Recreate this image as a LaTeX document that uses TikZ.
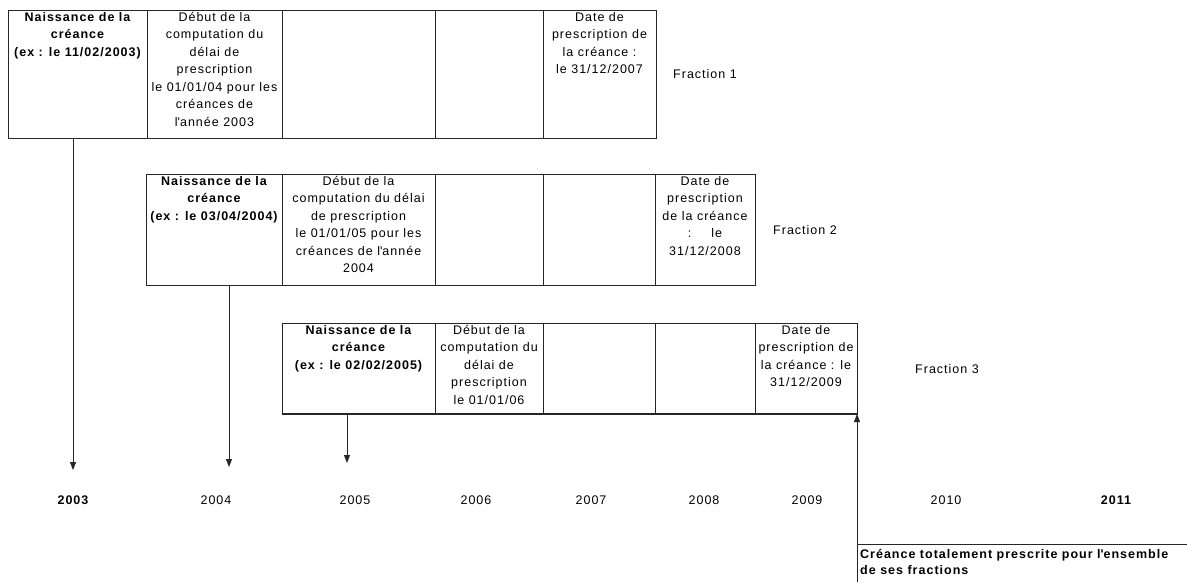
\documentclass[tikz,border=0pt]{standalone}
\usepackage{fontspec}
\setmainfont{Liberation Sans}[LetterSpace=8]
\usetikzlibrary{arrows.meta}
\begin{document}
\begin{tikzpicture}[x=1pt,y=-1pt,
  base/.style={font=\fontsize{12.5}{17.5}\selectfont},
  boldtxt/.style={font=\fontsize{12.5}{17.5}\selectfont\bfseries},
  cell/.style={draw=black!85, line width=0.8pt, anchor=north west, inner sep=0pt, outer sep=0pt},
  txt/.style={base, anchor=north, align=center, inner sep=0pt},
  btxt/.style={boldtxt, anchor=north, align=center, inner sep=0pt},
  arr/.style={draw=black!85, line width=0.8pt, -{Triangle[width=6pt,length=8pt]}},
  plain/.style={draw=black!85, line width=0.8pt}]
\useasboundingbox (0,0) rectangle (1187,582);
% Row 1
\node[cell, minimum width=139pt, minimum height=128pt] (r1c1) at (8,10) {};
\node[cell, minimum width=135pt, minimum height=128pt] (r1c2) at (147,10) {};
\node[cell, minimum width=153pt, minimum height=128pt] (r1c3) at (282,10) {};
\node[cell, minimum width=108pt, minimum height=128pt] (r1c4) at (435,10) {};
\node[cell, minimum width=113pt, minimum height=128pt] (r1c5) at (543,10) {};
\node[btxt] (t11) at ([yshift=-2pt]r1c1.north) {Naissance de la\\créance\\(ex : le 11/02/2003)};
\node[txt] (t12) at ([yshift=-2pt]r1c2.north) {Début de la\\computation du\\délai de\\prescription\\le 01/01/04 pour les\\créances de\\l\textquotesingle année 2003};
\node[txt] (t15) at ([yshift=-2pt]r1c5.north) {Date de\\prescription de\\la créance :\\le 31/12/2007};
\node[base, anchor=center] (f1) at (705,74) {Fraction 1};
% Row 2
\node[cell, minimum width=136pt, minimum height=111pt] (r2c1) at (146,174) {};
\node[cell, minimum width=153pt, minimum height=111pt] (r2c2) at (282,174) {};
\node[cell, minimum width=108pt, minimum height=111pt] (r2c3) at (435,174) {};
\node[cell, minimum width=112pt, minimum height=111pt] (r2c4) at (543,174) {};
\node[cell, minimum width=100pt, minimum height=111pt] (r2c5) at (655,174) {};
\node[btxt] (t21) at ([yshift=-2pt]r2c1.north) {Naissance de la\\créance\\(ex : le 03/04/2004)};
\node[txt] (t22) at ([yshift=-2pt]r2c2.north) {Début de la\\computation du délai\\de prescription\\le 01/01/05 pour les\\créances de l\textquotesingle année\\2004};
\node[txt] (t25) at ([yshift=-2pt]r2c5.north) {Date de\\prescription\\de la créance\\:\hspace{1.6em}le\\31/12/2008};
\node[base, anchor=center] (f2) at (805,230) {Fraction 2};
% Row 3
\node[cell, minimum width=153pt, minimum height=91pt] (r3c1) at (282,323) {};
\node[cell, minimum width=108pt, minimum height=91pt] (r3c2) at (435,323) {};
\node[cell, minimum width=112pt, minimum height=91pt] (r3c3) at (543,323) {};
\node[cell, minimum width=100pt, minimum height=91pt] (r3c4) at (655,323) {};
\node[cell, minimum width=102pt, minimum height=91pt] (r3c5) at (755,323) {};
\node[btxt] (t31) at ([yshift=-2pt]r3c1.north) {Naissance de la\\créance\\(ex : le 02/02/2005)};
\node[txt] (t32) at ([yshift=-2pt]r3c2.north) {Début de la\\computation du\\délai de\\prescription\\le 01/01/06};
\node[txt] (t35) at ([yshift=-2pt]r3c5.north) {Date de\\prescription de\\la créance : le\\31/12/2009};
\node[base, anchor=center] (f3) at (947,369) {Fraction 3};
\draw[black!85, line width=1.8pt] (r3c1.south west) -- (r3c5.south east);
% Years
\node[boldtxt, anchor=center] (y2003) at (73,500) {2003};
\node[base, anchor=center] (y2004) at (216,500) {2004};
\node[base, anchor=center] (y2005) at (355,500) {2005};
\node[base, anchor=center] (y2006) at (476,500) {2006};
\node[base, anchor=center] (y2007) at (591,500) {2007};
\node[base, anchor=center] (y2008) at (704,500) {2008};
\node[base, anchor=center] (y2009) at (807,500) {2009};
\node[base, anchor=center] (y2010) at (946,500) {2010};
\node[boldtxt, anchor=center] (y2011) at (1116,500) {2011};
% Arrows
\coordinate (a1) at (73,470);
\coordinate (a2) at (229,467);
\coordinate (a3) at (347,463);
\draw[arr] (r1c1.south -| a1) -- (a1);
\draw[arr] (r2c1.south -| a2) -- (a2);
\draw[arr] (r3c1.south -| a3) -- (a3);
% Final
\coordinate (fbottom) at (857,582);
\coordinate (corner) at (857,544);
\coordinate (rightend) at (1187,544);
\draw[arr] (fbottom) -- (r3c5.south east);
\draw[plain] (corner) -- (rightend);
\node[boldtxt, anchor=north west, align=left, inner sep=0pt, font=\fontsize{12.5}{16}\selectfont\bfseries] (total) at (860,549) {Créance totalement prescrite pour l\textquotesingle ensemble\\de ses fractions};
\end{tikzpicture}
\end{document}
